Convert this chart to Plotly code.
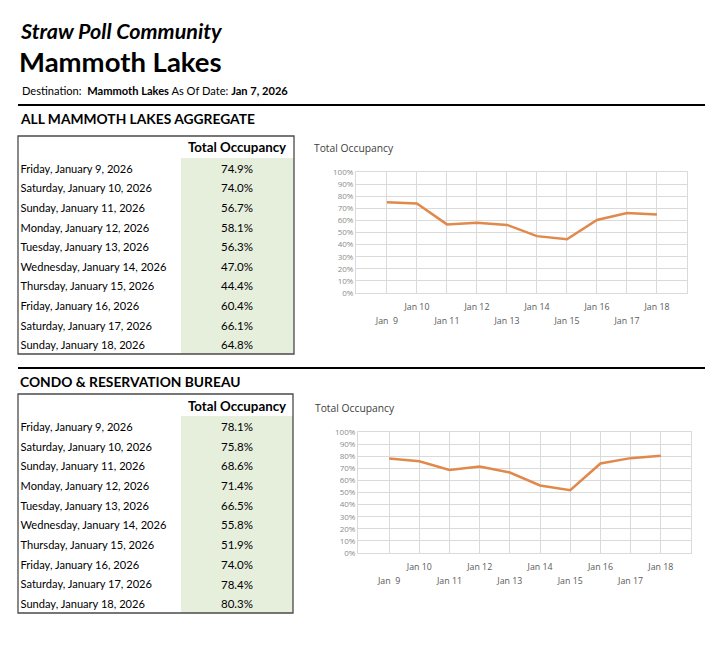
import plotly.graph_objects as go

W, H = 720, 652

# ---------------- data ----------------
date_labels = ["Friday, January 9, 2026", "Saturday, January 10, 2026", "Sunday, January 11, 2026",
               "Monday, January 12, 2026", "Tuesday, January 13, 2026", "Wednesday, January 14, 2026",
               "Thursday, January 15, 2026", "Friday, January 16, 2026", "Saturday, January 17, 2026",
               "Sunday, January 18, 2026"]
short_labels = ["Jan  9", "Jan 10", "Jan 11", "Jan 12", "Jan 13", "Jan 14", "Jan 15", "Jan 16", "Jan 17", "Jan 18"]
aggregate_occ = [74.9, 74.0, 56.7, 58.1, 56.3, 47.0, 44.4, 60.4, 66.1, 64.8]
condo_occ = [78.1, 75.8, 68.6, 71.4, 66.5, 55.8, 51.9, 74.0, 78.4, 80.3]
y_ticks = [0, 10, 20, 30, 40, 50, 60, 70, 80, 90, 100]
column_header = "Total Occupancy"

# ---------------- styles ----------------
FONT_T = "Lato"
FONT_C = "Open Sans"
GREEN = "#E6EEDC"
ORANGE = "#E0894B"
GRID = "#DADADA"
idx = list(range(len(short_labels)))
rows = list(range(len(date_labels)))


def px(x):
    return x / W


def py(y):
    return 1 - y / H


fig = go.Figure()
layout_axes = {}
shapes = []

# ---------------- tables (drawn on hidden axes) ----------------
ROW_H = 19.6
HEAD_H = 22
TEXT_DY = 2.2 / ROW_H       # small downward nudge of text inside each row
tables = [
    # axis suffix, values, left, right, top, bottom, header text offset from top (px)
    ("5", aggregate_occ, 18, 294, 136, 354, 12.5),
    ("6", condo_occ, 18, 293, 394, 613, 13.5),
]
for sfx, vals, l, r, t, b, head_off in tables:
    width = r - l
    head_top = -0.5 - HEAD_H / ROW_H
    label_x = 2.5 / width
    value_x = (237 - l) / width
    green_x = (181 - l) / width
    xa, ya = "x" + sfx, "y" + sfx
    row_y = [ri + TEXT_DY for ri in rows]
    fig.add_trace(go.Scatter(x=[label_x] * len(rows), y=row_y, mode="text", text=date_labels,
                             textposition="middle right", xaxis=xa, yaxis=ya, hoverinfo="skip",
                             textfont=dict(family=FONT_T, size=11.1, color="black"), showlegend=False))
    fig.add_trace(go.Scatter(x=[value_x] * len(rows), y=row_y, mode="text",
                             text=[f"{v:.1f}%" for v in vals],
                             textposition="middle center", xaxis=xa, yaxis=ya, hoverinfo="skip",
                             textfont=dict(family=FONT_T, size=11.5, color="black"), showlegend=False))
    fig.add_trace(go.Scatter(x=[value_x], y=[head_top + head_off / ROW_H], mode="text",
                             text=[f"<b>{column_header}</b>"],
                             textposition="middle center", xaxis=xa, yaxis=ya, hoverinfo="skip",
                             textfont=dict(family=FONT_T, size=13.3, color="black"), showlegend=False))
    layout_axes["xaxis" + sfx] = dict(domain=[px(l), px(r)], range=[0, 1], visible=False,
                                      anchor=ya, fixedrange=True, automargin=False)
    layout_axes["yaxis" + sfx] = dict(domain=[py(b), py(t)], range=[len(rows) - 0.5, head_top],
                                      visible=False, anchor=xa, fixedrange=True, automargin=False)
    shapes.append(dict(type="rect", xref=xa, yref=ya, x0=green_x, x1=1, y0=-0.5, y1=len(rows) - 0.5,
                       fillcolor=GREEN, line=dict(width=0), layer="below"))
    shapes.append(dict(type="rect", xref="paper", yref="paper", x0=px(l), x1=px(r), y0=py(b), y1=py(t),
                       line=dict(color="#4A4A4A", width=1.3)))

# ---------------- line charts ----------------
fig.add_trace(go.Scatter(x=idx, y=aggregate_occ, mode="lines", line=dict(color=ORANGE, width=2.5),
                         xaxis="x", yaxis="y", showlegend=False, hoverinfo="skip"))
fig.add_trace(go.Scatter(x=idx, y=condo_occ, mode="lines", line=dict(color=ORANGE, width=2.5),
                         xaxis="x2", yaxis="y2", showlegend=False, hoverinfo="skip"))

upper_text = [s if i % 2 == 1 else "" for i, s in enumerate(short_labels)]
lower_vals = [i for i in idx if i % 2 == 0]
lower_text = [short_labels[i] for i in lower_vals]

tick_font = dict(family=FONT_C, size=8.8, color="#595959")
common_x = dict(range=[-1.03, 10], showline=True, mirror=True, linecolor=GRID, linewidth=1,
                gridcolor=GRID, gridwidth=1, ticks="", zeroline=False, fixedrange=True,
                tickfont=tick_font, automargin=False)
common_y = dict(range=[0, 100], tickvals=y_ticks, ticktext=[f"{v}%" for v in y_ticks],
                showline=True, mirror=True, linecolor=GRID, linewidth=1,
                gridcolor=GRID, gridwidth=1, ticks="", zeroline=False, fixedrange=True,
                tickfont=dict(family=FONT_C, size=8, color="#8C8C8C"), automargin=False)

charts = [
    # (xaxis, yaxis, overlay x, xref, left, right, top, bottom)
    ("xaxis", "yaxis", "xaxis3", "x", 356, 687, 172, 293),
    ("xaxis2", "yaxis2", "xaxis4", "x2", 358, 691, 432, 553),
]
for xa, ya, xo, xref, l, r, t, b in charts:
    yref = "y" + xref[1:]
    layout_axes[xa] = dict(common_x, domain=[px(l), px(r)], anchor=yref,
                           tickvals=idx, ticktext=upper_text, ticklabelstandoff=5)
    layout_axes[ya] = dict(common_y, domain=[py(b), py(t)], anchor=xref)
    layout_axes[xo] = dict(range=[-1.03, 10], domain=[px(l), px(r)], overlaying=xref, anchor=yref,
                           side="bottom", showgrid=False, showline=False, zeroline=False, ticks="",
                           tickvals=lower_vals, ticktext=lower_text, ticklabelstandoff=21,
                           fixedrange=True, tickfont=tick_font, automargin=False)

fig.add_trace(go.Scatter(x=[None], y=[None], xaxis="x3", yaxis="y", showlegend=False))
fig.add_trace(go.Scatter(x=[None], y=[None], xaxis="x4", yaxis="y2", showlegend=False))

annotations = [
    dict(x=px(18), y=py(31), text="<b><i>Straw Poll Community</i></b>", font=dict(family=FONT_T, size=21.5, color="black")),
    dict(x=px(17), y=py(61), text="<b>Mammoth Lakes</b>", font=dict(family=FONT_T, size=27.5, color="black")),
    dict(x=px(20), y=py(90.5), text="Destination:  <b>Mammoth Lakes</b> As Of Date: <b>Jan 7, 2026</b>",
         font=dict(family=FONT_T, size=11.1, color="black")),
    dict(x=px(18), y=py(118.5), text="<b>ALL MAMMOTH LAKES AGGREGATE</b>", font=dict(family=FONT_T, size=13.8, color="black")),
    dict(x=px(18), y=py(382), text="<b>CONDO &amp; RESERVATION BUREAU</b>", font=dict(family=FONT_T, size=13.8, color="black")),
    dict(x=px(312), y=py(148), text="Total Occupancy", font=dict(family=FONT_C, size=10.3, color="#404040")),
    dict(x=px(313), y=py(408), text="Total Occupancy", font=dict(family=FONT_C, size=10.3, color="#404040")),
]
for a in annotations:
    a.update(xref="paper", yref="paper", xanchor="left", yanchor="middle", showarrow=False)

for yy in (105, 368):
    shapes.append(dict(type="line", xref="paper", yref="paper", x0=px(18), x1=px(705), y0=py(yy), y1=py(yy),
                       line=dict(color="black", width=2)))

fig.update_layout(
    width=W, height=H, margin=dict(l=0, r=0, t=0, b=0, pad=0, autoexpand=False),
    paper_bgcolor="white", plot_bgcolor="white",
    annotations=annotations, shapes=shapes, showlegend=False, hovermode=False,
    **layout_axes,
)

fig.write_html("out.html", config={"displayModeBar": False},
               post_script="document.body.style.margin='0px';")
